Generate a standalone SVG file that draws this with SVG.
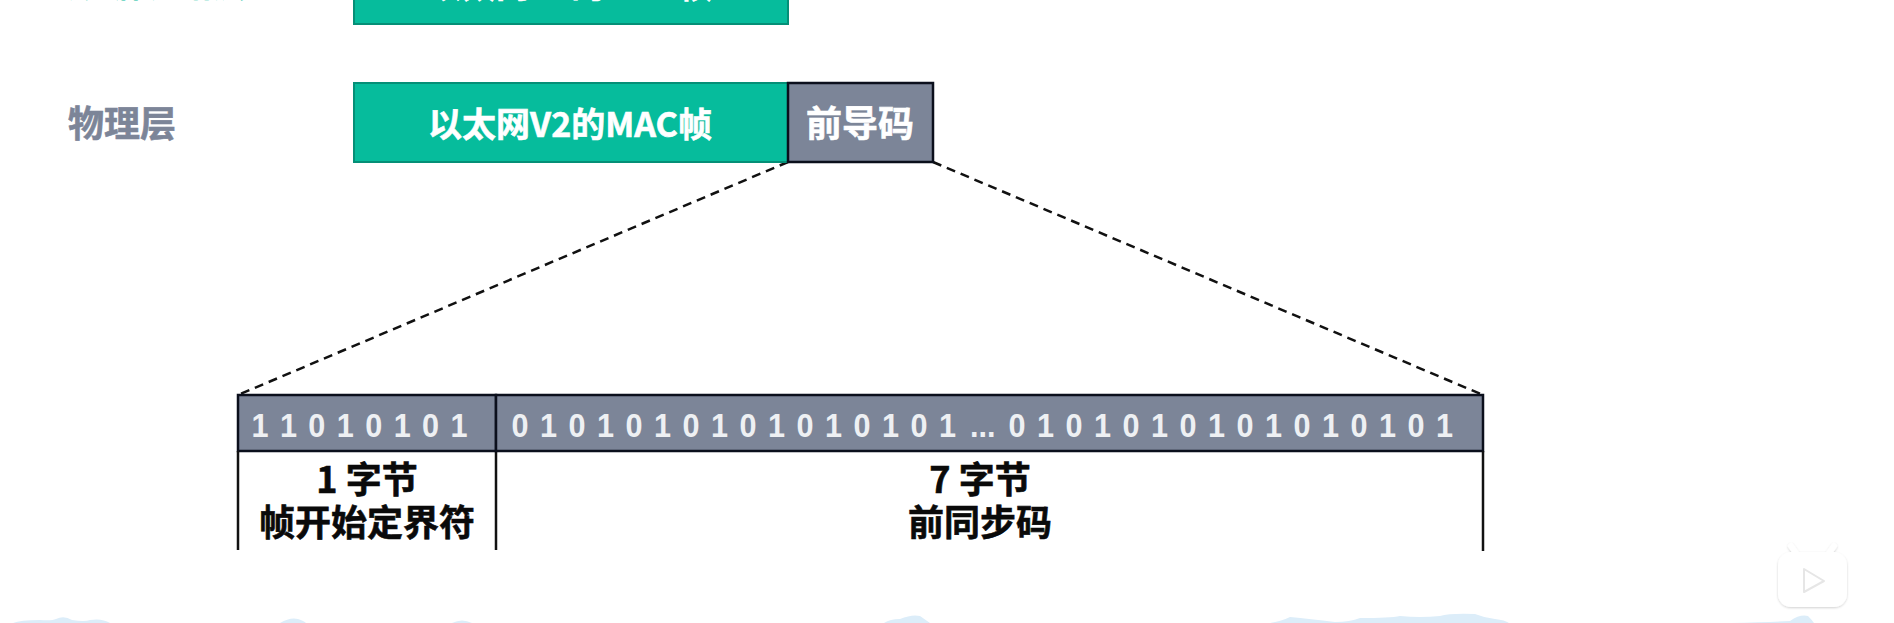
<svg xmlns="http://www.w3.org/2000/svg" width="1894" height="623" viewBox="0 0 1894 623">
<defs>
<filter id="soft" x="-20%" y="-20%" width="140%" height="140%"><feDropShadow dx="0" dy="1" stdDeviation="1" flood-color="#000" flood-opacity=".18"/></filter>
</defs>
<style>
text{font-family:"Noto Sans CJK SC","Liberation Sans",sans-serif;font-weight:700;text-anchor:middle}
.w{fill:#fff;stroke:#fff;stroke-width:.6}
.d{font-family:"Liberation Sans","Noto Sans CJK SC",sans-serif;font-size:34px;fill:#eef0f3;text-anchor:start}
.k{fill:#0a0a0a;stroke:#0a0a0a;stroke-width:.6;font-size:36px}
.g{fill:#06bc9c;stroke:#058f77;stroke-width:2}
.b{fill:#7c8598;stroke:#0b0f1c;stroke-width:2.5}
.l{stroke:#111;stroke-width:2.5;fill:none}
.c{fill:#dcedf9}
</style>
<rect width="1894" height="623" fill="#fff"/>
<g id="background">
<path class="c" d="M13 623 Q20 620 40 620 Q52 621 56 619 Q64 615 72 620 Q85 622 90 620 Q102 618 110 623Z"/>
<path class="c" d="M280 623 Q290 617 298 619 Q304 621 306 623Z"/>
<path class="c" d="M452 623 Q462 618 472 623Z"/>
<path class="c" d="M884 623 Q890 619 900 619 Q912 614 920 616 L930 623Z"/>
<path class="c" d="M1269 623 Q1280 622 1290 617 Q1310 619 1335 622 Q1350 622 1360 618 Q1390 618 1400 616 Q1420 618 1440 616 Q1450 613 1475 614 Q1485 618 1495 619 Q1505 620 1509 623Z"/>
<path class="c" d="M1730 623 Q1770 622 1790 621 Q1800 614 1808 616 Q1812 620 1814 623Z"/>
</g>
<g id="connectors">
<path class="l" stroke-dasharray="9 6" d="M788 162 L238 395"/>
<path class="l" stroke-dasharray="9 6" d="M933 162 L1483 395"/>
</g>
<g id="node-top">
<rect class="g" x="354" y="-40" width="434" height="64"/>
<text class="w" x="570" y="-2" font-size="34">以太网V2的MAC帧</text>
</g>
<text id="label-top" x="158" y="-3" font-size="36" fill="#06bc9c">数据链路层</text>
<text id="label-physical" x="122" y="137" font-size="36" fill="#7c8598" stroke="#7c8598" stroke-width=".6">物理层</text>
<g id="node-frame">
<rect class="g" x="354" y="83" width="434" height="79"/>
<text class="w" x="570" y="137" font-size="34">以太网V2的MAC帧</text>
</g>
<g id="node-preamble">
<rect class="b" x="788" y="83" width="145" height="79"/>
<text class="w" x="860" y="137" font-size="36">前导码</text>
</g>
<g id="node-sfd">
<rect class="b" x="238" y="395" width="258" height="56"/>
<path class="l" d="M238 451V550M496 451V550"/>
<text class="d" transform="translate(251.5 437) scale(.9 1)" textLength="240">1 1 0 1 0 1 0 1</text>
<text class="k" x="367" y="493">1 字节</text>
<text class="k" x="367" y="536">帧开始定界符</text>
</g>
<g id="node-sync">
<rect class="b" x="496" y="395" width="987" height="56"/>
<path class="l" d="M1483 451V551"/>
<text class="d" transform="translate(511.5 437) scale(.9 1)" textLength="494">0 1 0 1 0 1 0 1 0 1 0 1 0 1 0 1</text>
<text class="d" transform="translate(970 437) scale(.9 1)">...</text>
<text class="d" transform="translate(1008.5 437) scale(.9 1)" textLength="494">0 1 0 1 0 1 0 1 0 1 0 1 0 1 0 1</text>
<text class="k" x="980" y="493">7 字节</text>
<text class="k" x="980" y="536">前同步码</text>
</g>
<g id="play-icon" filter="url(#soft)">
<path d="M1796 553 L1791 546 M1829 553 L1834 546" stroke="#fff" stroke-width="6" stroke-linecap="round" fill="none"/>
<rect x="1778" y="552" width="69" height="55" rx="13" fill="#fff"/>
<path d="M1804 569 L1824 581 L1804 592Z" fill="#fff" stroke="#e6e6e6" stroke-width="2" stroke-linejoin="round"/>
</g>
</svg>
